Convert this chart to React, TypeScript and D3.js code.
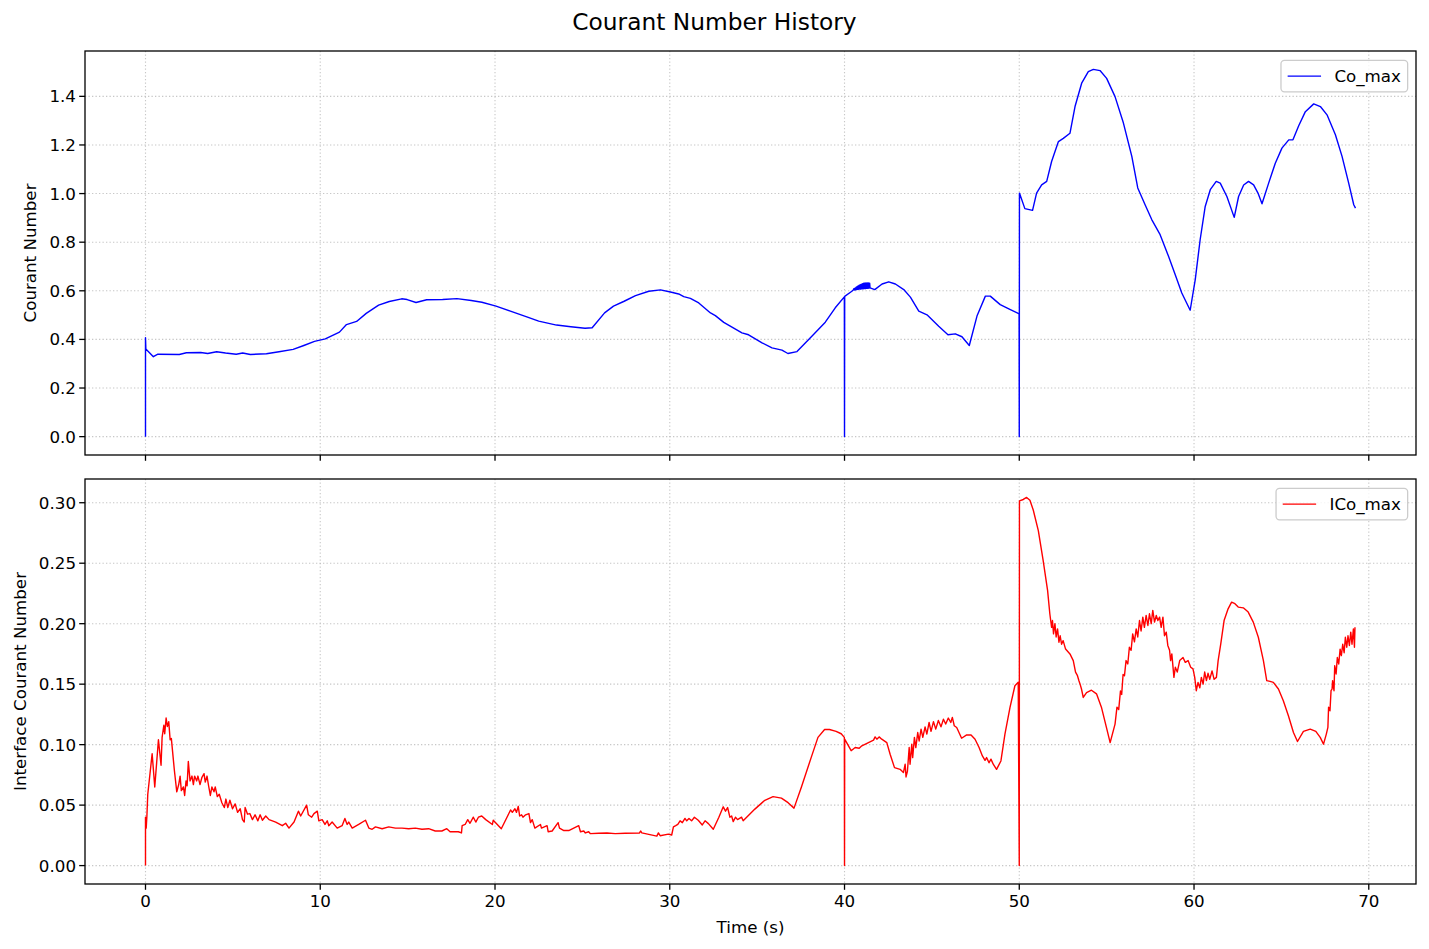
import React from 'react';
import * as d3 from 'd3';

type Pt = [number, number];

// Co_max (time s, value)
const coMax: Pt[] = [
  [0, 0], [0, 0.407], [0.02, 0.361], [0.45, 0.329], [0.71, 0.339], [1.93, 0.338], [2.34, 0.345], [3.16, 0.346],
  [3.56, 0.342], [4.07, 0.349], [4.58, 0.344], [5.19, 0.339], [5.56, 0.344], [6.0, 0.338], [6.92, 0.341], [7.64, 0.349],
  [8.45, 0.359], [9.06, 0.375], [9.67, 0.392], [10.29, 0.402], [11.1, 0.43], [11.5, 0.461], [12.08, 0.474], [12.63, 0.507],
  [13.34, 0.541], [13.95, 0.556], [14.66, 0.567], [14.97, 0.564], [15.48, 0.552], [16.09, 0.563], [17.0, 0.564], [17.82, 0.568],
  [18.64, 0.56], [19.25, 0.553], [20.06, 0.537], [20.88, 0.516], [21.9, 0.491], [22.5, 0.475], [23.52, 0.459], [24.34, 0.452],
  [25.15, 0.446], [25.56, 0.448], [26.27, 0.509], [26.78, 0.537], [27.39, 0.557], [28.04, 0.58], [28.8, 0.598], [29.47, 0.604],
  [30.04, 0.595], [30.51, 0.587], [30.8, 0.576], [31.18, 0.569], [31.66, 0.55], [32.33, 0.509], [32.61, 0.498], [33.09, 0.47],
  [33.66, 0.446], [34.13, 0.427], [34.51, 0.419], [35.28, 0.386], [35.85, 0.365], [36.42, 0.356], [36.76, 0.342], [37.28, 0.35],
  [38.13, 0.413], [38.9, 0.471], [39.47, 0.53], [39.99, 0.575], [40.0, 0], [40.01, 0.577], [40.42, 0.598], [40.5, 0.603],
  [40.54, 0.609], [40.57, 0.603], [40.61, 0.612], [40.64, 0.604], [40.68, 0.616], [40.71, 0.605], [40.75, 0.619], [40.78, 0.606],
  [40.82, 0.622], [40.85, 0.607], [40.89, 0.625], [40.92, 0.607], [40.96, 0.627], [40.99, 0.608], [41.03, 0.629], [41.06, 0.608],
  [41.1, 0.631], [41.13, 0.609], [41.17, 0.632], [41.2, 0.609], [41.24, 0.632], [41.27, 0.61], [41.31, 0.632], [41.34, 0.61],
  [41.38, 0.632], [41.41, 0.611], [41.44, 0.631], [41.46, 0.612], [41.73, 0.605], [42.15, 0.628],
  [42.53, 0.637], [42.91, 0.628], [43.39, 0.605], [43.77, 0.574], [44.25, 0.516], [44.72, 0.501], [45.39, 0.454], [45.92, 0.419],
  [46.34, 0.423], [46.72, 0.411], [47.14, 0.375], [47.58, 0.496], [48.06, 0.578], [48.34, 0.578], [48.91, 0.543], [49.49, 0.523],
  [49.99, 0.505], [50.0, 0], [50.01, 1.002], [50.32, 0.938], [50.76, 0.931], [50.99, 1.002], [51.28, 1.036], [51.57, 1.05],
  [51.85, 1.132], [52.24, 1.214], [52.52, 1.227], [52.9, 1.248], [53.19, 1.358], [53.57, 1.454], [53.95, 1.502], [54.24, 1.511],
  [54.62, 1.506], [55.0, 1.474], [55.48, 1.399], [55.96, 1.29], [56.44, 1.153], [56.78, 1.023], [57.2, 0.954], [57.58, 0.893],
  [58.06, 0.831], [58.54, 0.742], [58.92, 0.667], [59.3, 0.591], [59.78, 0.52], [60.07, 0.646], [60.35, 0.81], [60.64, 0.947],
  [60.93, 1.016], [61.27, 1.05], [61.5, 1.043], [61.88, 0.988], [62.3, 0.902], [62.55, 0.988], [62.84, 1.035], [63.12, 1.05],
  [63.41, 1.036], [63.66, 1.002], [63.89, 0.958], [64.27, 1.043], [64.65, 1.125], [65.03, 1.187], [65.42, 1.221], [65.66, 1.221],
  [65.99, 1.279], [66.37, 1.337], [66.85, 1.369], [67.23, 1.358], [67.61, 1.324], [68.09, 1.242], [68.47, 1.153], [68.85, 1.043],
  [69.14, 0.954], [69.24, 0.94],
];

// ICo_max (time s, value)
const icoMax: Pt[] = [
  [0, 0], [0, 0.04], [0.04, 0.031], [0.08, 0.041], [0.13, 0.059], [0.38, 0.0925], [0.53, 0.065], [0.74, 0.104], [0.84, 0.09],
  [0.89, 0.083], [0.95, 0.106], [1.05, 0.116], [1.1, 0.109], [1.18, 0.122], [1.25, 0.115], [1.33, 0.119], [1.41, 0.104],
  [1.48, 0.105], [1.65, 0.079], [1.79, 0.061], [1.9, 0.067], [1.98, 0.074], [2.05, 0.062], [2.17, 0.065], [2.24, 0.058],
  [2.32, 0.07], [2.38, 0.066], [2.45, 0.086], [2.55, 0.07], [2.66, 0.074], [2.74, 0.067], [2.81, 0.074], [2.93, 0.07],
  [3.0, 0.074], [3.12, 0.067], [3.23, 0.073], [3.35, 0.076], [3.42, 0.069], [3.52, 0.074], [3.61, 0.066], [3.71, 0.058],
  [3.8, 0.065], [3.92, 0.061], [3.99, 0.065], [4.11, 0.057], [4.22, 0.059], [4.37, 0.052], [4.51, 0.048], [4.6, 0.055],
  [4.71, 0.048], [4.83, 0.054], [4.98, 0.047], [5.13, 0.051], [5.27, 0.044], [5.42, 0.047], [5.55, 0.038], [5.65, 0.036],
  [5.7, 0.048], [5.84, 0.0425], [5.97, 0.043], [6.12, 0.038], [6.27, 0.042], [6.43, 0.037], [6.56, 0.042], [6.69, 0.0375],
  [6.88, 0.041], [7.07, 0.038], [7.45, 0.036], [7.83, 0.033], [8.02, 0.035], [8.21, 0.031], [8.5, 0.036], [8.75, 0.045],
  [8.88, 0.041], [9.22, 0.05], [9.32, 0.042], [9.51, 0.04], [9.64, 0.043], [9.83, 0.045], [9.92, 0.037], [10.11, 0.038],
  [10.27, 0.034], [10.4, 0.037], [10.49, 0.033], [10.68, 0.036], [10.97, 0.031], [11.25, 0.033], [11.41, 0.039], [11.54, 0.034],
  [11.63, 0.036], [11.83, 0.031], [12.2, 0.034], [12.59, 0.0375], [12.78, 0.031], [12.97, 0.03], [13.16, 0.032], [13.54, 0.0305],
  [13.92, 0.032], [14.3, 0.031], [14.68, 0.031], [15.06, 0.0305], [15.44, 0.031], [15.82, 0.03], [16.2, 0.0305], [16.58, 0.0286],
  [16.96, 0.0286], [17.24, 0.0305], [17.43, 0.028], [17.9, 0.028], [18.08, 0.027], [18.12, 0.033], [18.29, 0.034], [18.44, 0.038],
  [18.57, 0.035], [18.76, 0.04], [18.9, 0.036], [19.05, 0.04], [19.24, 0.041], [19.47, 0.038], [19.85, 0.034], [19.9, 0.0375],
  [20.36, 0.0305], [20.89, 0.046], [20.99, 0.044], [21.14, 0.047], [21.23, 0.044], [21.33, 0.049], [21.41, 0.041], [21.52, 0.042],
  [21.6, 0.04], [21.75, 0.042], [21.94, 0.043], [22.03, 0.0355], [22.13, 0.038], [22.28, 0.031], [22.6, 0.034], [22.66, 0.031],
  [22.98, 0.033], [23.04, 0.028], [23.27, 0.0286], [23.61, 0.0355], [23.69, 0.031], [23.94, 0.029], [24.22, 0.029], [24.79, 0.033],
  [24.89, 0.028], [25.08, 0.0286], [25.17, 0.027], [25.36, 0.028], [25.46, 0.0264], [25.93, 0.0267], [26.41, 0.027], [26.88, 0.0264],
  [27.45, 0.0267], [28.27, 0.027], [28.33, 0.0286], [28.4, 0.027], [29.26, 0.0244], [29.35, 0.027], [29.45, 0.0247], [29.92, 0.026],
  [30.11, 0.0253], [30.21, 0.032], [30.34, 0.033], [30.46, 0.034], [30.59, 0.037], [30.72, 0.0355], [30.87, 0.039], [30.97, 0.037],
  [31.1, 0.039], [31.25, 0.037], [31.41, 0.04], [31.63, 0.0375], [31.86, 0.0336], [32.02, 0.037], [32.21, 0.0347], [32.49, 0.03],
  [32.81, 0.04], [33.06, 0.0486], [33.19, 0.045], [33.31, 0.048], [33.44, 0.04], [33.54, 0.041], [33.63, 0.0364], [33.76, 0.04],
  [33.88, 0.038], [34.11, 0.04], [34.2, 0.037], [34.87, 0.0467], [35.44, 0.054], [35.91, 0.057], [36.39, 0.0558], [36.77, 0.052],
  [37.11, 0.0475], [37.53, 0.0647], [38.1, 0.0897], [38.48, 0.106], [38.86, 0.1125], [39.14, 0.1125], [39.52, 0.111], [39.81, 0.109],
  [39.99, 0.106], [40.0, 0], [40.01, 0.1045], [40.38, 0.095], [40.61, 0.0976], [40.84, 0.097], [40.99, 0.099], [41.37, 0.1017],
  [41.66, 0.1037], [41.75, 0.1064], [41.85, 0.1045], [41.98, 0.1064], [42.13, 0.1045], [42.42, 0.1017], [42.61, 0.092], [42.86, 0.081],
  [43.18, 0.0796], [43.37, 0.0769], [43.47, 0.0838], [43.52, 0.0733], [43.6, 0.078], [43.7, 0.0976], [43.75, 0.0838], [43.85, 0.1004],
  [43.9, 0.0893], [44.0, 0.106], [44.08, 0.0976], [44.19, 0.11], [44.27, 0.103], [44.38, 0.1128], [44.48, 0.106], [44.61, 0.1147],
  [44.71, 0.1087], [44.84, 0.1183], [44.95, 0.111], [45.09, 0.119], [45.22, 0.1128], [45.37, 0.12], [45.52, 0.1147], [45.66, 0.121],
  [45.79, 0.117], [45.94, 0.122], [46.08, 0.1183], [46.17, 0.1225], [46.28, 0.1156], [46.42, 0.1142], [46.7, 0.1053], [46.99, 0.108],
  [47.24, 0.108], [47.47, 0.1045], [47.7, 0.0976], [47.89, 0.0907], [48.04, 0.087], [48.13, 0.0893], [48.27, 0.085], [48.38, 0.088],
  [48.51, 0.0838], [48.7, 0.0796], [48.95, 0.0865], [49.18, 0.1087], [49.47, 0.1308], [49.75, 0.1487], [49.94, 0.1515], [50.0, 0],
  [50.01, 0.3016], [50.23, 0.3027], [50.42, 0.3044], [50.61, 0.302], [50.8, 0.294], [51.09, 0.277], [51.37, 0.252], [51.62, 0.2275],
  [51.75, 0.208], [51.85, 0.197], [51.9, 0.2026], [51.96, 0.1916], [52.04, 0.2], [52.11, 0.189], [52.19, 0.1957], [52.27, 0.1847],
  [52.34, 0.19], [52.42, 0.183], [52.51, 0.186], [52.65, 0.179], [52.9, 0.175], [53.09, 0.1695], [53.22, 0.16], [53.33, 0.157],
  [53.41, 0.153], [53.48, 0.15], [53.56, 0.146], [53.66, 0.139], [53.85, 0.143], [54.13, 0.145], [54.42, 0.142], [54.7, 0.131],
  [54.99, 0.114], [55.2, 0.1017], [55.48, 0.117], [55.59, 0.131], [55.69, 0.129], [55.79, 0.1443], [55.86, 0.1415], [55.94, 0.158],
  [56.02, 0.157], [56.11, 0.1695], [56.21, 0.1667], [56.3, 0.1805], [56.4, 0.178], [56.49, 0.1916], [56.59, 0.185], [56.69, 0.1957],
  [56.78, 0.189], [56.88, 0.2026], [56.97, 0.194], [57.07, 0.2054], [57.16, 0.197], [57.26, 0.2068], [57.36, 0.1985], [57.45, 0.2082],
  [57.55, 0.2], [57.64, 0.211], [57.74, 0.2013], [57.84, 0.2068], [57.93, 0.2026], [58.03, 0.2054], [58.12, 0.197], [58.22, 0.2054],
  [58.31, 0.19], [58.41, 0.193], [58.5, 0.182], [58.6, 0.178], [58.66, 0.1695], [58.73, 0.175], [58.85, 0.1556], [58.93, 0.164],
  [59.04, 0.16], [59.18, 0.1695], [59.37, 0.172], [59.5, 0.168], [59.66, 0.1695], [59.81, 0.164], [59.94, 0.1626], [60.04, 0.1556],
  [60.13, 0.1446], [60.23, 0.1515], [60.33, 0.147], [60.42, 0.1556], [60.52, 0.15], [60.61, 0.16], [60.71, 0.153], [60.8, 0.159],
  [60.9, 0.154], [61.03, 0.161], [61.15, 0.154], [61.28, 0.1556], [61.38, 0.1695], [61.53, 0.1833], [61.72, 0.2026], [61.95, 0.2123],
  [62.15, 0.2178], [62.34, 0.2165], [62.53, 0.2137], [62.82, 0.2131], [63.1, 0.2096], [63.39, 0.2013], [63.68, 0.1888], [63.97, 0.1695],
  [64.16, 0.1529], [64.35, 0.1523], [64.54, 0.1515], [64.83, 0.146], [65.11, 0.1363], [65.4, 0.1239], [65.69, 0.11], [65.92, 0.1026],
  [66.26, 0.1109], [66.65, 0.1128], [66.97, 0.1109], [67.22, 0.106], [67.41, 0.1004], [67.57, 0.1087], [67.66, 0.1142], [67.7, 0.131],
  [67.78, 0.128], [67.84, 0.1446], [67.9, 0.146], [67.93, 0.1529], [68.01, 0.1446], [68.05, 0.1653], [68.13, 0.1584], [68.2, 0.172],
  [68.28, 0.1667], [68.36, 0.179], [68.43, 0.1736], [68.51, 0.183], [68.59, 0.176], [68.66, 0.1888], [68.74, 0.1805], [68.81, 0.19],
  [68.89, 0.182], [68.97, 0.193], [69.04, 0.183], [69.12, 0.1957], [69.18, 0.1805], [69.21, 0.197],
];

const xTicks = [0, 10, 20, 30, 40, 50, 60, 70];
const coTicks = [0, 0.2, 0.4, 0.6, 0.8, 1.0, 1.2, 1.4];
const icoTicks = [0, 0.05, 0.1, 0.15, 0.2, 0.25, 0.3];

const W = 1429;
const H = 949;
const FONT = "'DejaVu Sans', 'Liberation Sans', sans-serif";
const FS = 16.7;
const PLOT_L = 85;
const PLOT_R = 1416;

function padDomain(ext: [number, number]): [number, number] {
  const m = (ext[1] - ext[0]) * 0.05;
  return [ext[0] - m, ext[1] + m];
}

function measure(text: string): number {
  if (typeof document === 'undefined') return text.length * FS * 0.6;
  const c = document.createElement('canvas');
  const ctx = c.getContext('2d');
  if (!ctx) return text.length * FS * 0.6;
  ctx.font = `${FS}px 'DejaVu Sans'`;
  return ctx.measureText(text).width;
}

interface PanelProps {
  id: string;
  data: Pt[];
  top: number;
  bottom: number;
  x: d3.ScaleLinear<number, number>;
  yTicks: number[];
  yFmt: (v: number) => string;
  color: string;
  label: string;
  yLabel: string;
  yLabelX: number;
  showXLabels: boolean;
}

function Panel(p: PanelProps) {
  const y = d3.scaleLinear().domain(padDomain(d3.extent(p.data, (d) => d[1]) as [number, number])).range([p.bottom, p.top]);
  const path = d3.line<Pt>().x((d) => p.x(d[0])).y((d) => y(d[1]))(p.data) || '';
  const tw = measure(p.label);
  const boxW = 0.4 * FS + 2 * FS + 0.8 * FS + tw + 0.4 * FS;
  const boxH = 31.5;
  const boxX = PLOT_R - 0.5 * FS - boxW;
  const boxY = p.top + 0.5 * FS + 1;
  const grid = { stroke: '#b0b0b0', strokeWidth: 1.1, strokeDasharray: '1.3 2.2', opacity: 0.7 } as const;
  return (
    <g>
      <defs>
        <clipPath id={`clip-${p.id}`}>
          <rect x={PLOT_L} y={p.top} width={PLOT_R - PLOT_L} height={p.bottom - p.top} />
        </clipPath>
      </defs>
      {xTicks.map((t) => (
        <line key={`gx${t}`} x1={p.x(t)} x2={p.x(t)} y1={p.top} y2={p.bottom} {...grid} />
      ))}
      {p.yTicks.map((t) => (
        <line key={`gy${t}`} x1={PLOT_L} x2={PLOT_R} y1={y(t)} y2={y(t)} {...grid} />
      ))}
      <path d={path} fill="none" stroke={p.color} strokeWidth={1.4} strokeLinejoin="round" clipPath={`url(#clip-${p.id})`} />
      <rect x={PLOT_L} y={p.top} width={PLOT_R - PLOT_L} height={p.bottom - p.top} fill="none" stroke="#000" strokeWidth={1.3} />
      {xTicks.map((t) => (
        <g key={`tx${t}`}>
          <line x1={p.x(t)} x2={p.x(t)} y1={p.bottom} y2={p.bottom + 5.8} stroke="#000" strokeWidth={1.3} />
          {p.showXLabels && (
            <text x={p.x(t)} y={p.bottom + 22.5} textAnchor="middle" fontSize={FS} fontFamily={FONT} fill="#000">
              {t}
            </text>
          )}
        </g>
      ))}
      {p.yTicks.map((t) => (
        <g key={`ty${t}`}>
          <line x1={PLOT_L - 5.8} x2={PLOT_L} y1={y(t)} y2={y(t)} stroke="#000" strokeWidth={1.3} />
          <text x={PLOT_L - 9} y={y(t) + 6} textAnchor="end" fontSize={FS} fontFamily={FONT} fill="#000">
            {p.yFmt(t)}
          </text>
        </g>
      ))}
      <text
        transform={`translate(${p.yLabelX},${(p.top + p.bottom) / 2}) rotate(-90)`}
        textAnchor="middle"
        dominantBaseline="central"
        fontSize={FS}
        fontFamily={FONT}
        fill="#000"
      >
        {p.yLabel}
      </text>
      <rect x={boxX} y={boxY} width={boxW} height={boxH} rx={3.5} fill="#fff" fillOpacity={0.8} stroke="#cccccc" strokeWidth={1.3} />
      <line x1={boxX + 0.4 * FS} x2={boxX + 2.4 * FS} y1={boxY + boxH / 2} y2={boxY + boxH / 2} stroke={p.color} strokeWidth={1.4} />
      <text x={boxX + 3.2 * FS} y={boxY + boxH / 2 + 6} fontSize={FS} fontFamily={FONT} fill="#000">
        {p.label}
      </text>
    </g>
  );
}

export default function App() {
  const allT = [...coMax, ...icoMax].map((d) => d[0]);
  const x = d3.scaleLinear().domain(padDomain(d3.extent(allT) as [number, number])).range([PLOT_L, PLOT_R]);
  return (
    <svg
      width={W}
      height={H}
      viewBox={`0 0 ${W} ${H}`}
      style={{ position: 'absolute', left: 0, top: 0, background: '#fff' }}
    >
      <rect x={0} y={0} width={W} height={H} fill="#fff" />
      <text x={W / 2} y={30} textAnchor="middle" fontSize={23.3} fontFamily={FONT} fill="#000">
        Courant Number History
      </text>
      <Panel
        id="co"
        data={coMax}
        top={51}
        bottom={455}
        x={x}
        yTicks={coTicks}
        yFmt={d3.format('.1f')}
        color="#0000ff"
        label="Co_max"
        yLabel="Courant Number"
        yLabelX={30}
        showXLabels={false}
      />
      <Panel
        id="ico"
        data={icoMax}
        top={479}
        bottom={884}
        x={x}
        yTicks={icoTicks}
        yFmt={d3.format('.2f')}
        color="#ff0000"
        label="ICo_max"
        yLabel="Interface Courant Number"
        yLabelX={20}
        showXLabels={true}
      />
      <text x={(PLOT_L + PLOT_R) / 2} y={933} textAnchor="middle" fontSize={FS} fontFamily={FONT} fill="#000">
        Time (s)
      </text>
    </svg>
  );
}
